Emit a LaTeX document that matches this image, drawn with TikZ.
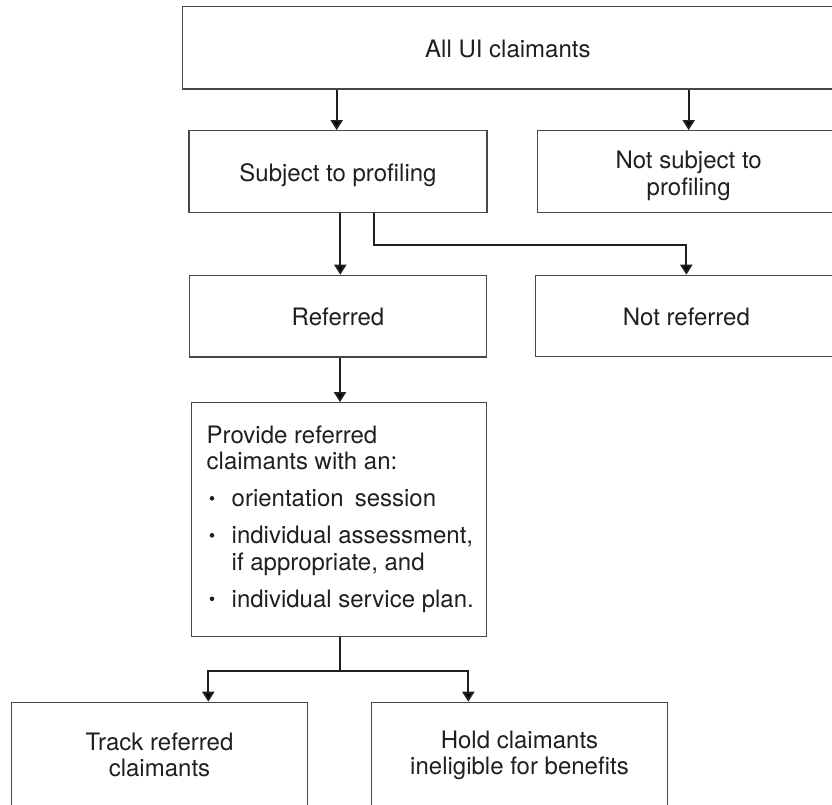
\documentclass[tikz,border=0pt]{standalone}
\usepackage{fontspec}
\setmainfont{TeX Gyre Heros}
\usetikzlibrary{arrows.meta,calc}
\newcommand{\bulmark}{\makebox[25pt][l]{\hspace{3pt}\tikz[baseline=0pt]\fill[black!88] (0,8.5pt) circle (2.3pt);}}
\begin{document}
\begin{tikzpicture}[x=1pt,y=-1pt,
  box/.style={draw=black!72, line width=1.2pt, rectangle, inner sep=0pt,
    font=\fontsize{24}{27}\selectfont, text=black!88},
  oneline/.style={text height=21pt, text depth=2pt},
  arr/.style={draw=black!88, line width=2pt, line join=miter,
    -{Triangle[width=12pt,length=10pt]}},
  ln/.style={draw=black!88, line width=2pt}]
\useasboundingbox (0,0) rectangle (832,804);
\clip (0,0) rectangle (832,804);

% boxes
\node[box, oneline, minimum width=650.3pt, minimum height=82.3pt] (top) at (507.85,47.9) {All UI claimants};
\node[box, oneline, minimum width=298pt, minimum height=81.6pt] (subj) at (338,171.5) {Subject to profiling};
\node[box, minimum width=302.7pt, minimum height=81.6pt, text height=10pt, text depth=17pt] (notsubj) at (688.65,171.5)
  {\parbox[t]{280pt}{\centering\fontsize{24}{27}\selectfont Not subject to\\profiling}};
\node[box, oneline, minimum width=296.6pt, minimum height=81.7pt] (ref) at (338,316.15) {Referred};
\node[box, oneline, minimum width=301.3pt, minimum height=81.4pt] (notref) at (686.35,316) {Not referred};
\node[box, minimum width=295pt, minimum height=234pt, text height=0pt, text depth=152.8pt] (provide) at (339.2,519.7)
  {\parbox[t]{265pt}{\raggedright\fontsize{24}{26.5}\selectfont
   Provide referred\\
   claimants with an:\\[10.5pt]
   \mbox{\bulmark orientation\hspace{11pt}session}\\[10.5pt]
   \mbox{\bulmark individual assessment,}\\
   \mbox{\hspace*{25pt}if appropriate, and}\\[10.5pt]
   \mbox{\bulmark individual service plan.}}};
\node[box, minimum width=295.6pt, minimum height=108pt, text height=10pt, text depth=22.6pt] (track) at (159.5,756.3)
  {\parbox[t]{280pt}{\centering\fontsize{24}{26.5}\selectfont Track referred\\claimants}};
\node[box, minimum width=295.6pt, minimum height=108pt, text height=10pt, text depth=26.6pt] (hold) at (519.5,756.3)
  {\parbox[t]{280pt}{\centering\fontsize{24}{26.5}\selectfont Hold claimants\\ineligible for benefits}};

% connectors
\draw[arr] ([xshift=-1.3pt]subj.north |- top.south) -- ([xshift=-1.3pt]subj.north);
\draw[arr] (notsubj.north |- top.south) -- (notsubj.north);
\draw[arr] ([xshift=2.3pt]subj.south) -- ([xshift=2.3pt]ref.north);
\draw[arr] ([xshift=36.3pt]subj.south) -- ++(0,32) -| (notref.north);
\draw[arr] ([xshift=2pt]ref.south) -- ([xshift=2pt]ref.south |- provide.north);
\draw[ln] ([xshift=0.8pt]provide.south) -- ++(0,34) coordinate (split);
\draw[arr] (split) -| ([xshift=48.8pt]track.north);
\draw[arr] (split) -| ([xshift=-51.2pt]hold.north);
\end{tikzpicture}
\end{document}
